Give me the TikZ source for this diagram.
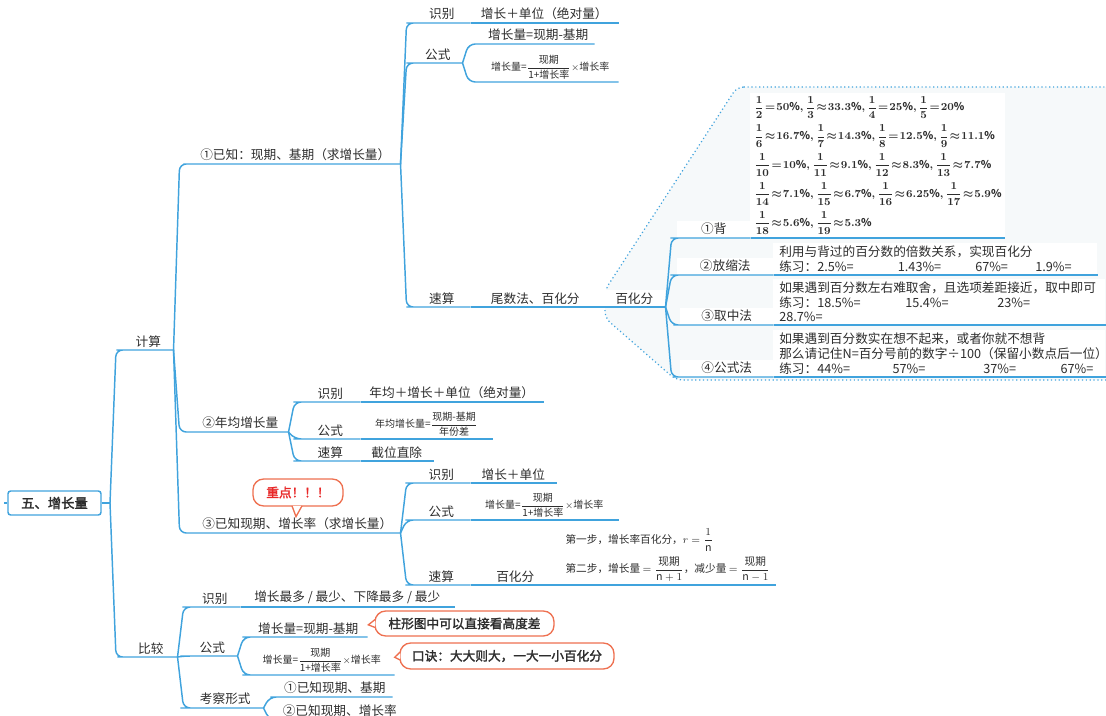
\documentclass[tikz,border=0pt]{standalone}
\usepackage{amsmath}
\usepackage{fontspec}
\setmainfont{Noto Sans CJK SC}
\newfontfamily\cjkbold{Noto Sans CJK SC}[FakeBold=2]
\usetikzlibrary{calc}

\definecolor{mapblue}{RGB}{64,163,221}
\definecolor{zonefill}{RGB}{246,249,250}
\definecolor{notered}{RGB}{238,112,80}
\definecolor{alertred}{RGB}{232,40,40}
\definecolor{inkgray}{RGB}{45,45,45}
\newcommand\fracrow[1]{\mbox{\thickmuskip=1.5mu\medmuskip=1.5mu$#1$}}

\begin{document}
\begin{tikzpicture}[x=0.75pt,y=-0.75pt,
  font=\fontsize{9.5}{11}\selectfont,text=inkgray,
  link/.style={draw=mapblue,line width=1.1pt,rounded corners=5pt},
  elbow/.style={to path={-- ($(\tikztostart |- \tikztotarget)+(#1,0)$) -- (\tikztotarget)}},
  elbow/.default=6,
  topic/.style={anchor=south west,inner xsep=0pt,inner ysep=2pt,minimum width=#1*0.75pt},
  formula/.style={font=\fontsize{7.5}{9}\selectfont},
  tbox/.style={anchor=south west,fill=white,inner xsep=4.5pt,inner ysep=2pt,text width=#1,align=left},
  note/.style={draw=notered,line width=1pt,fill=white,rounded corners=8pt,font=\cjkbold\fontsize{9.5}{11}\selectfont},
  rootbox/.style={draw=mapblue,line width=1.1pt,rounded corners=2pt,minimum width=93*0.75pt,minimum height=24*0.75pt,font=\cjkbold\fontsize{10}{12}\selectfont}]
\useasboundingbox (0,0) rectangle (1106,716);

\draw[mapblue,dotted,line width=0.9pt,fill=zonefill,rounded corners=5pt] (737,87) -- (1112,87) -- (1112,380) -- (676,380) -- (605,318) -- (605,290) -- cycle;

\node[rootbox] (root) at (54.5,503) {五、增长量};
\coordinate (rs) at (110,503);

\node[topic=50] (jisuan) at (123,350) {计算};
\node[topic=53] (bijiao) at (124,657) {比较};

\node[topic=210] (k1) at (190,164) {①已知：现期、基期（求增长量）};
\node[topic=96] (k2) at (192,432) {②年均增长量};
\node[topic=206] (k3) at (194,533) {③已知现期、增长率（求增长量）};

\node[topic=57] (k1a) at (413,23) {识别};
\node[topic=148] (k1a1) at (470,23) {增长＋单位（绝对量）};
\node[topic=49] (k1b) at (413,63) {公式};
\node[topic=112] (k1b1) at (482,44) {增长量=现期-基期};
\node[topic=136,formula] (k1b2) at (482,82) {增长量=$\dfrac{\text{现期}}{\text{1+增长率}}\times$增长率};
\node[topic=57] (k1c) at (413,307) {速算};
\node[topic=130] (k1c1) at (470,307) {尾数法、百化分};
\node[topic=62,fill=white] (bhf) at (603,307) {百化分};

\node[topic=73,fill=white] (b1) at (677,238) {①背};
\node[tbox=185pt,inner xsep=3pt,minimum height=145*0.75pt,font=\boldmath\fontsize{8}{9}\selectfont] (b1t) at (750,238) {%
\fracrow{\dfrac{1}{2}=50\%{,}\,\dfrac{1}{3}\approx33.3\%{,}\,\dfrac{1}{4}=25\%{,}\,\dfrac{1}{5}=20\%}\\[4pt]
\fracrow{\dfrac{1}{6}\approx16.7\%{,}\,\dfrac{1}{7}\approx14.3\%{,}\,\dfrac{1}{8}=12.5\%{,}\,\dfrac{1}{9}\approx11.1\%}\\[4pt]
\fracrow{\dfrac{1}{10}=10\%{,}\,\dfrac{1}{11}\approx9.1\%{,}\,\dfrac{1}{12}\approx8.3\%{,}\,\dfrac{1}{13}\approx7.7\%}\\[4pt]
\fracrow{\dfrac{1}{14}\approx7.1\%{,}\,\dfrac{1}{15}\approx6.7\%{,}\,\dfrac{1}{16}\approx6.25\%{,}\,\dfrac{1}{17}\approx5.9\%}\\[4pt]
\fracrow{\dfrac{1}{18}\approx5.6\%{,}\,\dfrac{1}{19}\approx5.3\%}};
\node[topic=96,fill=white] (b2) at (677,275) {②放缩法};
\node[tbox=234pt] (b2t) at (773,275) {利用与背过的百分数的倍数关系，实现百化分\\
\makebox[89pt][l]{练习：2.5\%=}\makebox[58pt][l]{1.43\%=}\makebox[45pt][l]{67\%=}1.9\%=};
\node[topic=93,fill=white] (b3) at (680,325) {③取中法};
\node[tbox=240pt] (b3t) at (773,325) {如果遇到百分数左右难取舍，且选项差距接近，取中即可\\
\makebox[94.5pt][l]{练习：18.5\%=}\makebox[69pt][l]{15.4\%=}23\%=\\ 28.7\%=};
\node[topic=93,fill=white] (b4) at (680,377) {④公式法};
\node[tbox=240pt] (b4t) at (773,377) {如果遇到百分数实在想不起来，或者你就不想背\\
那么请记住N=百分号前的数字÷100（保留小数点后一位）\\
\makebox[85pt][l]{练习：44\%=}\makebox[68pt][l]{57\%=}\makebox[58pt][l]{37\%=}67\%=};

\node[topic=60] (k2a) at (300,402) {识别};
\node[topic=183] (k2a1) at (360,402) {年均＋增长＋单位（绝对量）};
\node[topic=60] (k2b) at (300,439) {公式};
\node[topic=132,formula] (k2b1) at (360,439) {年均增长量=$\dfrac{\text{现期-基期}}{\text{年份差}}$};
\node[topic=60] (k2c) at (300,461) {速算};
\node[topic=73] (k2c1) at (360,461) {截位直除};

\node[topic=58] (k3a) at (412,483) {识别};
\node[topic=86] (k3a1) at (470,483) {增长＋单位};
\node[topic=58] (k3b) at (412,520) {公式};
\node[topic=148,formula] (k3b1) at (470,520) {增长量=$\dfrac{\text{现期}}{\text{1+增长率}}\times$增长率};
\node[topic=58] (k3c) at (412,585) {速算};
\node[topic=90] (k3c1) at (470,585) {百化分};
\node[topic=215,align=left,font=\fontsize{8}{10}\selectfont] (k3c2) at (560,585) {第一步，增长率百化分，$r=\dfrac{1}{\mathrm{n}}$\\[3pt]
第二步，增长量 $=\dfrac{\text{现期}}{\mathrm{n}+1}$，减少量 $=\dfrac{\text{现期}}{\mathrm{n}-1}$};

\node[topic=51] (c1) at (189,607) {识别};
\node[topic=214] (c1a) at (240,607) {增长最多 / 最少、下降最多 / 最少};
\node[topic=50] (c2) at (187,656) {公式};
\node[topic=118] (c2a) at (249,637) {增长量=现期-基期};
\node[topic=145,formula] (c2b) at (249,675) {增长量=$\dfrac{\text{现期}}{\text{1+增长率}}\times$增长率};
\node[topic=76] (c3) at (187,708) {考察形式};
\node[topic=115] (c3a) at (277,697) {①已知现期、基期};
\node[topic=125] (c3b) at (277,720) {②已知现期、增长率};

\draw[link] (root.west) -- ++(-3,0);
\draw[link] (root.east) -- (rs);
\draw[link] (rs) to[elbow] (jisuan.south west) -- (jisuan.south east);
\draw[link] (rs) to[elbow] (bijiao.south west) -- (bijiao.south east);
\draw[link] (jisuan.south east) to[elbow] (k1.south west) -- (k1.south east);
\draw[link] (jisuan.south east) to[elbow] (k2.south west) -- (k2.south east);
\draw[link] (jisuan.south east) to[elbow] (k3.south west) -- (k3.south east);
\draw[link] (k1.south east) to[elbow] (k1a.south west) -- (k1a.south east);
\draw[link] (k1.south east) to[elbow] (k1b.south west) -- (k1b.south east);
\draw[link] (k1.south east) to[elbow] (k1c.south west) -- (k1c.south east);
\draw[link] (k1a.south east) -- (k1a1.south west) -- (k1a1.south east);
\draw[link] (k1b.south east) to[elbow] (k1b1.south west) -- (k1b1.south east);
\draw[link] (k1b.south east) to[elbow] (k1b2.south west) -- (k1b2.south east);
\draw[link] (k1c.south east) -- (k1c1.south west) -- (k1c1.south east);
\draw[link] (k1c1.south east) -- (bhf.south west) -- (bhf.south east);
\draw[link] (bhf.south east) to[elbow] (b1.south west) -- (b1.south east);
\draw[link] (bhf.south east) to[elbow] (b2.south west) -- (b2.south east);
\draw[link] (bhf.south east) to[elbow] (b3.south west) -- (b3.south east);
\draw[link] (bhf.south east) to[elbow] (b4.south west) -- (b4.south east);
\draw[link] (b1.south east) -- (b1t.south west) -- (b1t.south east);
\draw[link] (b2.south east) -- (b2t.south west) -- (b2t.south east);
\draw[link] (b3.south east) -- (b3t.south west) -- (b3t.south east);
\draw[link] (b4.south east) -- (b4t.south west) -- (b4t.south east);
\draw[link] (k2.south east) to[elbow] (k2a.south west) -- (k2a.south east);
\draw[link] (k2.south east) to[elbow] (k2b.south west) -- (k2b.south east);
\draw[link] (k2.south east) to[elbow] (k2c.south west) -- (k2c.south east);
\draw[link] (k2a.south east) -- (k2a1.south west) -- (k2a1.south east);
\draw[link] (k2b.south east) -- (k2b1.south west) -- (k2b1.south east);
\draw[link] (k2c.south east) -- (k2c1.south west) -- (k2c1.south east);
\draw[link] (k3.south east) to[elbow] (k3a.south west) -- (k3a.south east);
\draw[link] (k3.south east) to[elbow] (k3b.south west) -- (k3b.south east);
\draw[link] (k3.south east) to[elbow] (k3c.south west) -- (k3c.south east);
\draw[link] (k3a.south east) -- (k3a1.south west) -- (k3a1.south east);
\draw[link] (k3b.south east) -- (k3b1.south west) -- (k3b1.south east);
\draw[link] (k3c.south east) -- (k3c1.south west) -- (k3c1.south east);
\draw[link] (k3c1.south east) -- (k3c2.south west) -- (k3c2.south east);
\draw[link] (bijiao.south east) to[elbow] (c1.south west) -- (c1.south east);
\draw[link] (bijiao.south east) to[elbow] (c2.south west) -- (c2.south east);
\draw[link] (bijiao.south east) to[elbow] (c3.south west) -- (c3.south east);
\draw[link] (c1.south east) -- (c1a.south west) -- (c1a.south east);
\draw[link] (c2.south east) to[elbow] (c2a.south west) -- (c2a.south east);
\draw[link] (c2.south east) to[elbow] (c2b.south west) -- (c2b.south east);
\draw[link] (c3.south east) to[elbow] (c3a.south west) -- (c3a.south east);
\draw[link] (c3.south east) to[elbow] (c3b.south west) -- (c3b.south east);

\node[note,text=alertred,minimum width=90*0.75pt,minimum height=27*0.75pt] (zd) at (298,492.5) {重点！！！};
\draw[notered,line width=1pt,fill=white] ([xshift=-4.5pt,yshift=0.6pt]zd.south) -- ([xshift=-1.5pt,yshift=-7.5pt]zd.south) -- ([xshift=3pt,yshift=0.6pt]zd.south);
\node[note,minimum width=179*0.75pt,minimum height=25*0.75pt] (zhu) at (464.5,623.5) {柱形图中可以直接看高度差};
\draw[notered,line width=1pt,fill=white] ([xshift=0.6pt,yshift=3pt]zhu.west) -- ([xshift=-4.5pt,yshift=-1pt]zhu.west) -- ([xshift=0.6pt,yshift=-3pt]zhu.west);
\node[note,minimum width=214*0.75pt,minimum height=26*0.75pt] (koujue) at (507,656) {口诀：大大则大，一大一小百化分};
\draw[notered,line width=1pt,fill=white] ([xshift=0.6pt,yshift=3pt]koujue.west) -- ([xshift=-3.5pt,yshift=-1pt]koujue.west) -- ([xshift=0.6pt,yshift=-3pt]koujue.west);
\end{tikzpicture}
\end{document}
